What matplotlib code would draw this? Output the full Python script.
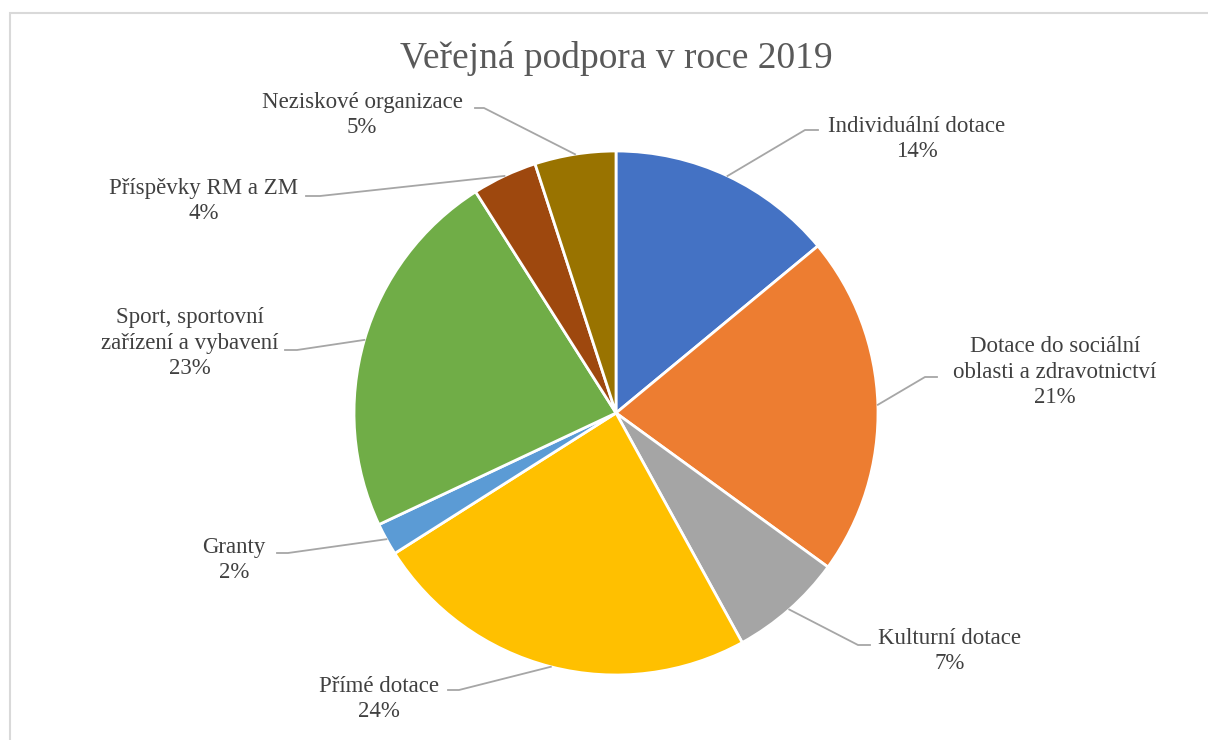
import numpy as np
import matplotlib.pyplot as plt
from matplotlib.patches import Rectangle

plt.rcParams['font.family'] = ['Liberation Serif', 'DejaVu Serif']

categories = ["Individuální dotace", "Dotace do sociální\noblasti a zdravotnictví",
              "Kulturní dotace", "Přímé dotace", "Granty",
              "Sport, sportovní\nzařízení a vybavení", "Příspěvky RM a ZM",
              "Neziskové organizace"]
values = [14, 21, 7, 24, 2, 23, 4, 5]
colors = ["#4472C4", "#ED7D31", "#A5A5A5", "#FFC000", "#5B9BD5",
          "#70AD47", "#9E480E", "#997300"]

# label layout in pixel coords (y down): text center, elbow point, line end
label_pos = [(917, 139), (1055, 372), (950, 651), (379, 699),
             (234, 560), (190, 343), (204, 201), (362, 115)]
elbows = [((805, 130), (818, 130)), ((925, 377), (937, 377)),
          ((858, 645), (870, 645)), ((459, 690), (448, 690)),
          ((288, 553), (277, 553)), ((297, 350), (285, 350)),
          ((320, 196), (306, 196)), ((484, 108), (475, 108))]

W, H = 1208, 740
fig = plt.figure(figsize=(W / 100, H / 100), dpi=100)
ax = fig.add_axes([0, 0, 1, 1])

cx, cy, r = 616, H - 413, 262
ax.pie(values, colors=colors, startangle=90, counterclock=False,
       center=(cx, cy), radius=r, frame=True,
       wedgeprops=dict(edgecolor='white', linewidth=2))
ax.set_xlim(0, W)
ax.set_ylim(0, H)
ax.set_aspect('equal')
ax.axis('off')

ax.add_patch(Rectangle((10, H - 1000), 1300, 1000 - 13, fill=False,
                       edgecolor='#D9D9D9', linewidth=1.5, zorder=0))

ax.text(616, H - 58, "Veřejná podpora v roce 2019", ha='center', va='center',
        fontsize=27, color='#595959')

total = sum(values)
start = 90.0
for name, v, (tx, ty), (e1, e2) in zip(categories, values, label_pos, elbows):
    sweep = v / total * 360
    mid = np.radians(start - sweep / 2)
    start -= sweep
    px, py = cx + r * np.cos(mid), cy + r * np.sin(mid)
    ax.plot([px, e1[0], e2[0]], [py, H - e1[1], H - e2[1]],
            color='#A6A6A6', linewidth=1.3, zorder=1)
    ax.text(tx, H - ty, f"{name}\n{v}%", ha='center', va='center',
            fontsize=16.5, color='#404040', linespacing=1.3)

fig.savefig("out.png", dpi=100)
